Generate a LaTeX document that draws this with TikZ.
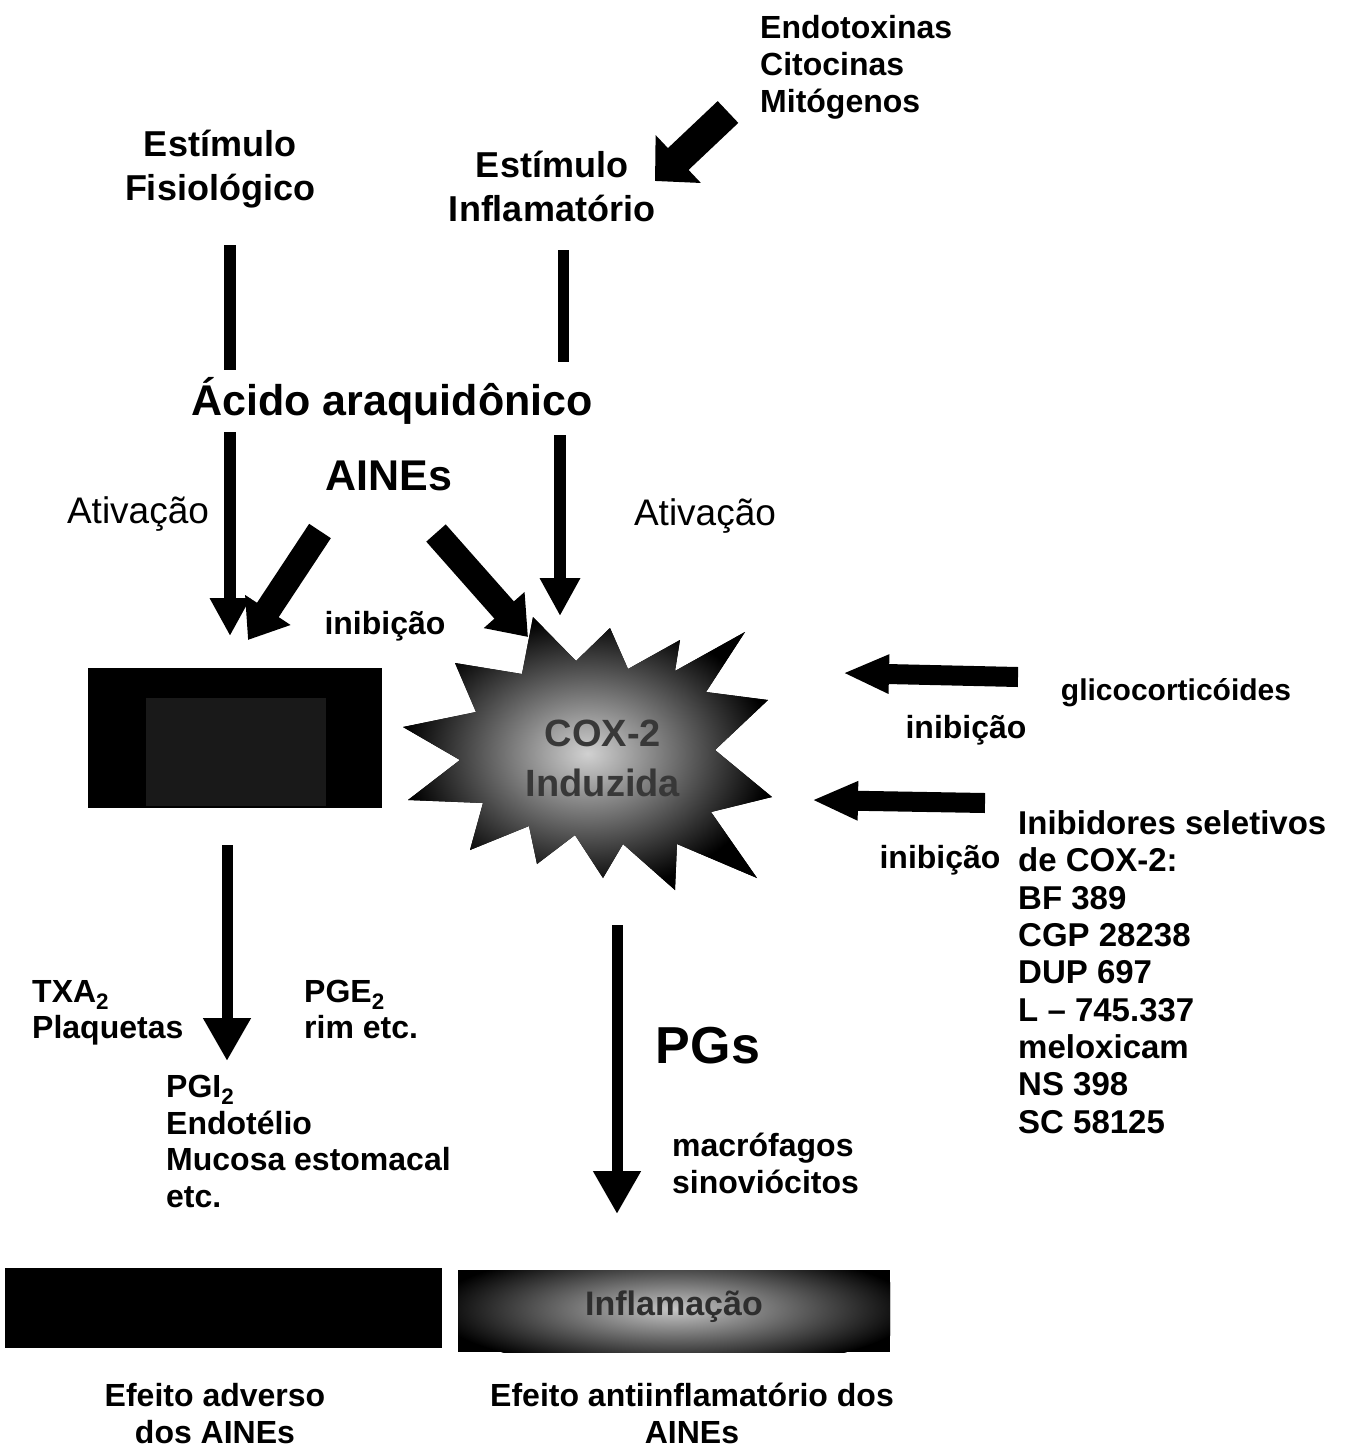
\documentclass[tikz,border=0pt]{standalone}
\usepackage{fontspec}
\setmainfont{Liberation Sans}
\usetikzlibrary{arrows.meta}
\begin{document}
\begin{tikzpicture}[x=1pt,y=-1pt,
  lbl/.style={font=\bfseries\fontsize{32}{37}\selectfont, inner sep=0pt, align=left},
  lblc/.style={lbl, align=center},
  big/.style={font=\bfseries\fontsize{36}{44}\selectfont, inner sep=0pt, align=center},
  huge/.style={font=\bfseries\fontsize{43}{50}\selectfont, inner sep=0pt},
  reg/.style={font=\fontsize{37}{44}\selectfont, inner sep=0pt},
  barline/.style={line width=12pt},
  varrow/.style={line width=12pt, -{Triangle[length=38pt,width=38pt]}},
  vbigarrow/.style={line width=11pt, -{Triangle[length=43pt,width=45pt]}},
  blockarrow/.style={line width=26pt, -{Triangle[length=36pt,width=52pt]}},
  toparrow/.style={line width=30pt, -{Triangle[length=32pt,width=64pt]}},
  harrow/.style={line width=20pt, -{Triangle[length=46pt,width=36pt]}},
  boxfill/.style={fill=black}
]
\useasboundingbox[fill=white] (0,0) rectangle (1367,1449);

% ---------- text nodes (anchor=base is the baseline of the last line) ----------
\node[big, anchor=base] (fisio) at (220,200) {Estímulo\\Fisiológico};
\node[big, anchor=base] (inflam) at (552,221) {Estímulo\\Inflamatório};
\node[lbl, anchor=base west] (endo) at (760,112) {Endotoxinas\\Citocinas\\Mitógenos};
\node[huge, anchor=base] (acido) at (392,415) {Ácido araquidônico};
\node[huge, anchor=base] (aines) at (389,490) {AINEs};
\node[reg, anchor=base] (ativL) at (138,523) {Ativação};
\node[reg, anchor=base] (ativR) at (705,525) {Ativação};
\node[lbl, anchor=base] (inibM) at (385,634) {inibição};
\node[lbl, font=\bfseries\fontsize{30}{36}\selectfont, anchor=base] (glico) at (1176,700) {glicocorticóides};
\node[lbl, anchor=base] (inibR1) at (966,738) {inibição};
\node[lbl, anchor=base] (inibR2) at (940,868) {inibição};
\node[lbl, font=\bfseries\fontsize{33}{37.3}\selectfont, anchor=base west] (seletivos) at (1018,1133)
  {Inibidores seletivos\\de COX-2:\\BF 389\\CGP 28238\\DUP 697\\L -- 745.337\\meloxicam\\NS 398\\SC 58125};
\node[lbl, font=\bfseries\fontsize{32}{36}\selectfont, anchor=base west] (txa) at (32,1038) {TXA\textsubscript{2}\\Plaquetas};
\node[lbl, font=\bfseries\fontsize{32}{36}\selectfont, anchor=base west] (pge) at (304,1038) {PGE\textsubscript{2}\\rim etc.};
\node[lbl, font=\bfseries\fontsize{32}{36.5}\selectfont, anchor=base west] (pgi) at (166,1207) {PGI\textsubscript{2}\\Endotélio\\Mucosa estomacal\\etc.};
\node[inner sep=0pt, font=\bfseries\fontsize{52}{60}\selectfont, anchor=base] (pgs) at (708,1063) {PGs};
\node[lbl, anchor=base west] (macro) at (672,1193) {macrófagos\\sinoviócitos};
\node[lblc, anchor=base] (adverso) at (215,1443) {Efeito adverso\\dos AINEs};
\node[lblc, anchor=base] (antiinf) at (692,1443) {Efeito antiinflamatório dos\\AINEs};

% ---------- left box (COX-1) ----------
\node[boxfill, minimum width=294pt, minimum height=140pt, inner sep=0pt, anchor=north west] (cox1) at (88,668) {};
\fill[black!90] (146,698) rectangle (326,806);

% ---------- star (COX-2) ----------
\fill[inner color=black!18, outer color=black]
  (533,617) -- (576,661) -- (610,628) -- (628,669) -- (680,640) -- (675,671)
  -- (745,632) -- (706,692) -- (768,700) -- (715,750) -- (772,797) -- (711,812)
  -- (757,878) -- (677,844) -- (675,890) -- (623,844) -- (603,878) -- (575,835)
  -- (537,864) -- (529,826) -- (470,850) -- (483,803) -- (408,800) -- (460,760)
  -- (403,727) -- (476,712) -- (455,663) -- (522,674) -- cycle;
\node[font=\bfseries\fontsize{38}{50}\selectfont, text=black!78, align=center, inner sep=0pt] (cox2) at (603,758) {COX-2\\Induzida};

% ---------- bottom boxes ----------
\node[boxfill, minimum width=437pt, minimum height=80pt, inner sep=0pt, anchor=north west] (advbox) at (5,1268) {};
\node[boxfill, minimum width=432pt, minimum height=82pt, inner sep=0pt, anchor=north west] (inflbox) at (458,1270) {};
\begin{scope}
  \clip (458,1270) rectangle (890,1352);
  \fill[inner color=black!22, outer color=black] (674,1309) ellipse (240 and 62);
\end{scope}
\node[font=\bfseries\fontsize{34}{40}\selectfont, text=black!82, inner sep=0pt] (inflamacao) at (674,1307) {Inflamação};

% ---------- connector coordinates ----------
\coordinate (f1) at (230,245);  \coordinate (f2) at (230,370);
\coordinate (a1) at (230,432);  \coordinate (a2) at (230,636);
\coordinate (i1) at (563,250);  \coordinate (i2) at (563,362);
\coordinate (b1) at (560,435);  \coordinate (b2) at (560,616);
\coordinate (e1) at (728,112);  \coordinate (e2) at (655,181);
\coordinate (n1) at (320,531);  \coordinate (n2) at (248,640);
\coordinate (m1) at (436,533);  \coordinate (m2) at (528,637);
\coordinate (g1) at (1018,677); \coordinate (g2) at (843,673);
\coordinate (s1) at (985,803);  \coordinate (s2) at (812,800);
\coordinate (d1) at (227,845);  \coordinate (d2) at (227,1061);
\coordinate (p1) at (617,925);  \coordinate (p2) at (617,1214);

% ---------- connectors ----------
\draw[barline] (f1) -- (f2);
\draw[varrow] (a1) -- (a2);
\draw[barline, line width=11pt] (i1) -- (i2);
\draw[varrow] (b1) -- (b2);
\draw[toparrow] (e1) -- (e2);
\draw[blockarrow] (n1) -- (n2);
\draw[blockarrow] (m1) -- (m2);
\draw[harrow] (g1) -- (g2);
\draw[harrow] (s1) -- (s2);
\draw[vbigarrow] (d1) -- (d2);
\draw[vbigarrow] (p1) -- (p2);
\end{tikzpicture}
\end{document}
